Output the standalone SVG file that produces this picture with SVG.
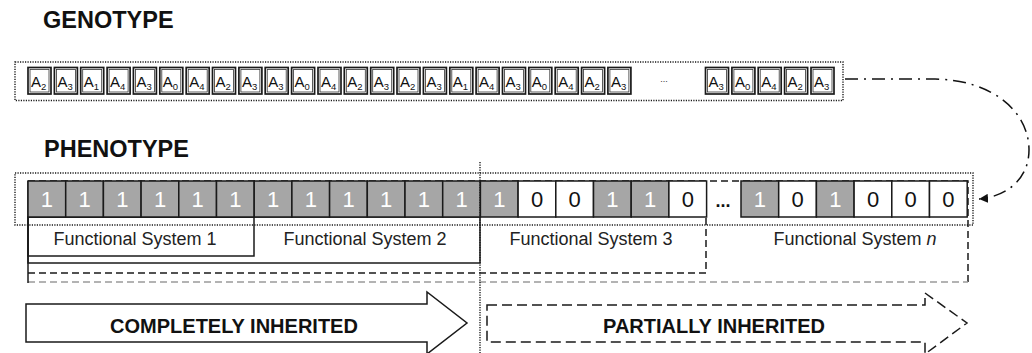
<svg xmlns="http://www.w3.org/2000/svg" xmlns:xlink="http://www.w3.org/1999/xlink" width="1032" height="353" viewBox="0 0 1032 353">
  <style>
    .head { font-family: "Liberation Sans", Arial, sans-serif; font-weight: bold; font-size: 23.5px; fill: #111; }
    .gene { font-family: "Liberation Sans", Arial, sans-serif; font-size: 15px; fill: #111; }
    .gene tspan { font-size: 9.5px; }
    .bit { font-family: "Liberation Sans", Arial, sans-serif; font-size: 22px; text-anchor: middle; }
    .on { fill: #a6a6a6; stroke: #1a1a1a; stroke-width: 1.5; }
    .off { fill: #ffffff; stroke: #1a1a1a; stroke-width: 1.5; }
    .on-t { fill: #ffffff; }
    .off-t { fill: #111; }
    .fs { font-family: "Liberation Sans", Arial, sans-serif; font-size: 18px; fill: #222; text-anchor: middle; }
    .solid { fill: none; stroke: #1a1a1a; stroke-width: 1.5; }
    .dash { fill: none; stroke: #1a1a1a; stroke-width: 1.5; stroke-dasharray: 7 4; }
    .dash-grey { fill: none; stroke: #9a9a9a; stroke-width: 1.5; stroke-dasharray: 7 4; }
    .dotted { fill: none; stroke: #1a1a1a; stroke-width: 1.4; stroke-dasharray: 1.2 1.3; }
    .band { font-family: "Liberation Sans", Arial, sans-serif; font-weight: bold; font-size: 20px; fill: #111; text-anchor: middle; }
  </style>
  <defs>
    <!-- double-framed gene cell -->
    <g id="gcell">
      <rect x="0" y="0" width="23" height="26.5" fill="#fff" stroke="#1a1a1a" stroke-width="1.7"/>
      <rect x="2" y="2" width="19" height="22.5" fill="none" stroke="#333" stroke-width="0.8"/>
    </g>
    <marker id="headL" viewBox="0 0 10 10" refX="10" refY="5" markerWidth="9" markerHeight="9" markerUnits="userSpaceOnUse" orient="auto">
      <path d="M0,0 L10,5 L0,10 Z" fill="#111"/>
    </marker>
  </defs>

  <rect width="1032" height="353" fill="#fff"/>

  <!-- headings -->
  <text class="head" x="43" y="28">GENOTYPE</text>
  <text class="head" x="44" y="157">PHENOTYPE</text>

  <!-- genotype string -->
  <g id="genotype">
    <rect class="dotted" x="15" y="62" width="828" height="38.5"/>
    <use xlink:href="#gcell" x="28" y="67.5"/>
    <use xlink:href="#gcell" x="54.4" y="67.5"/>
    <use xlink:href="#gcell" x="80.7" y="67.5"/>
    <use xlink:href="#gcell" x="107.1" y="67.5"/>
    <use xlink:href="#gcell" x="133.4" y="67.5"/>
    <use xlink:href="#gcell" x="159.8" y="67.5"/>
    <use xlink:href="#gcell" x="186.2" y="67.5"/>
    <use xlink:href="#gcell" x="212.5" y="67.5"/>
    <use xlink:href="#gcell" x="238.9" y="67.5"/>
    <use xlink:href="#gcell" x="265.2" y="67.5"/>
    <use xlink:href="#gcell" x="291.6" y="67.5"/>
    <use xlink:href="#gcell" x="318" y="67.5"/>
    <use xlink:href="#gcell" x="344.3" y="67.5"/>
    <use xlink:href="#gcell" x="370.7" y="67.5"/>
    <use xlink:href="#gcell" x="397" y="67.5"/>
    <use xlink:href="#gcell" x="423.4" y="67.5"/>
    <use xlink:href="#gcell" x="449.8" y="67.5"/>
    <use xlink:href="#gcell" x="476.1" y="67.5"/>
    <use xlink:href="#gcell" x="502.5" y="67.5"/>
    <use xlink:href="#gcell" x="528.8" y="67.5"/>
    <use xlink:href="#gcell" x="555.2" y="67.5"/>
    <use xlink:href="#gcell" x="581.6" y="67.5"/>
    <use xlink:href="#gcell" x="607.9" y="67.5"/>
    <use xlink:href="#gcell" x="705.5" y="67.5"/>
    <use xlink:href="#gcell" x="731.9" y="67.5"/>
    <use xlink:href="#gcell" x="758.2" y="67.5"/>
    <use xlink:href="#gcell" x="784.6" y="67.5"/>
    <use xlink:href="#gcell" x="811" y="67.5"/>

    <text class="gene" x="31" y="86.5">A<tspan dy="3">2</tspan></text>
    <text class="gene" x="57.4" y="86.5">A<tspan dy="3">3</tspan></text>
    <text class="gene" x="83.7" y="86.5">A<tspan dy="3">1</tspan></text>
    <text class="gene" x="110.1" y="86.5">A<tspan dy="3">4</tspan></text>
    <text class="gene" x="136.4" y="86.5">A<tspan dy="3">3</tspan></text>
    <text class="gene" x="162.8" y="86.5">A<tspan dy="3">0</tspan></text>
    <text class="gene" x="189.2" y="86.5">A<tspan dy="3">4</tspan></text>
    <text class="gene" x="215.5" y="86.5">A<tspan dy="3">2</tspan></text>
    <text class="gene" x="241.9" y="86.5">A<tspan dy="3">3</tspan></text>
    <text class="gene" x="268.2" y="86.5">A<tspan dy="3">3</tspan></text>
    <text class="gene" x="294.6" y="86.5">A<tspan dy="3">0</tspan></text>
    <text class="gene" x="321" y="86.5">A<tspan dy="3">4</tspan></text>
    <text class="gene" x="347.3" y="86.5">A<tspan dy="3">2</tspan></text>
    <text class="gene" x="373.7" y="86.5">A<tspan dy="3">3</tspan></text>
    <text class="gene" x="400" y="86.5">A<tspan dy="3">2</tspan></text>
    <text class="gene" x="426.4" y="86.5">A<tspan dy="3">3</tspan></text>
    <text class="gene" x="452.8" y="86.5">A<tspan dy="3">1</tspan></text>
    <text class="gene" x="479.1" y="86.5">A<tspan dy="3">4</tspan></text>
    <text class="gene" x="505.5" y="86.5">A<tspan dy="3">3</tspan></text>
    <text class="gene" x="531.8" y="86.5">A<tspan dy="3">0</tspan></text>
    <text class="gene" x="558.2" y="86.5">A<tspan dy="3">4</tspan></text>
    <text class="gene" x="584.6" y="86.5">A<tspan dy="3">2</tspan></text>
    <text class="gene" x="610.9" y="86.5">A<tspan dy="3">3</tspan></text>
    <text class="gene" x="708.5" y="86.5">A<tspan dy="3">3</tspan></text>
    <text class="gene" x="734.9" y="86.5">A<tspan dy="3">0</tspan></text>
    <text class="gene" x="761.2" y="86.5">A<tspan dy="3">4</tspan></text>
    <text class="gene" x="787.6" y="86.5">A<tspan dy="3">2</tspan></text>
    <text class="gene" x="814" y="86.5">A<tspan dy="3">3</tspan></text>

    <text x="664" y="82" font-family="Liberation Sans, Arial, sans-serif" font-size="9" fill="#333" text-anchor="middle">...</text>
  </g>

  <!-- functional system brackets under the phenotype -->
  <g id="fs-n">
    <path class="dash" d="M28,181 L968,181 L968,282"/>
    <path class="dash-grey" d="M28,282 L968,282"/>
    <text class="fs" x="855" y="244.5">Functional System <tspan font-style="italic">n</tspan></text>
  </g>
  <g id="fs-3">
    <path class="dash" d="M28,273 L706,273 L706,181"/>
    <text class="fs" x="591" y="244.5">Functional System 3</text>
  </g>
  <g id="fs-2">
    <rect class="solid" x="28" y="217" width="452" height="46"/>
    <text class="fs" x="365" y="244.5">Functional System 2</text>
  </g>
  <g id="fs-1">
    <rect class="solid" x="28" y="217" width="226" height="39"/>
    <text class="fs" x="135" y="244.5">Functional System 1</text>
  </g>
  <!-- shared left edge of all brackets -->
  <line class="solid" x1="28" y1="181" x2="28" y2="283"/>

  <!-- phenotype string -->
  <g id="phenotype">
    <rect class="on" x="28" y="181" width="37.7" height="36"/>
    <rect class="on" x="65.7" y="181" width="37.7" height="36"/>
    <rect class="on" x="103.4" y="181" width="37.7" height="36"/>
    <rect class="on" x="141.1" y="181" width="37.7" height="36"/>
    <rect class="on" x="178.8" y="181" width="37.7" height="36"/>
    <rect class="on" x="216.5" y="181" width="37.7" height="36"/>
    <rect class="on" x="254.2" y="181" width="37.7" height="36"/>
    <rect class="on" x="291.9" y="181" width="37.7" height="36"/>
    <rect class="on" x="329.6" y="181" width="37.7" height="36"/>
    <rect class="on" x="367.3" y="181" width="37.7" height="36"/>
    <rect class="on" x="405" y="181" width="37.7" height="36"/>
    <rect class="on" x="442.7" y="181" width="37.7" height="36"/>
    <rect class="on" x="480.4" y="181" width="37.7" height="36"/>
    <rect class="off" x="518.1" y="181" width="37.7" height="36"/>
    <rect class="off" x="555.8" y="181" width="37.7" height="36"/>
    <rect class="on" x="593.5" y="181" width="37.7" height="36"/>
    <rect class="on" x="631.2" y="181" width="37.7" height="36"/>
    <rect class="off" x="668.9" y="181" width="37.7" height="36"/>
    <rect class="on" x="741" y="181" width="37.7" height="36"/>
    <rect class="off" x="778.7" y="181" width="37.7" height="36"/>
    <rect class="on" x="816.4" y="181" width="37.7" height="36"/>
    <rect class="off" x="854.1" y="181" width="37.7" height="36"/>
    <rect class="off" x="891.8" y="181" width="37.7" height="36"/>
    <rect class="off" x="929.5" y="181" width="37.7" height="36"/>

    <text class="bit on-t" x="46.9" y="207">1</text>
    <text class="bit on-t" x="84.6" y="207">1</text>
    <text class="bit on-t" x="122.3" y="207">1</text>
    <text class="bit on-t" x="160" y="207">1</text>
    <text class="bit on-t" x="197.7" y="207">1</text>
    <text class="bit on-t" x="235.4" y="207">1</text>
    <text class="bit on-t" x="273.1" y="207">1</text>
    <text class="bit on-t" x="310.8" y="207">1</text>
    <text class="bit on-t" x="348.5" y="207">1</text>
    <text class="bit on-t" x="386.2" y="207">1</text>
    <text class="bit on-t" x="423.9" y="207">1</text>
    <text class="bit on-t" x="461.6" y="207">1</text>
    <text class="bit on-t" x="499.3" y="207">1</text>
    <text class="bit off-t" x="537" y="207">0</text>
    <text class="bit off-t" x="574.7" y="207">0</text>
    <text class="bit on-t" x="612.4" y="207">1</text>
    <text class="bit on-t" x="650.1" y="207">1</text>
    <text class="bit off-t" x="687.8" y="207">0</text>
    <text class="bit on-t" x="759.9" y="207">1</text>
    <text class="bit off-t" x="797.6" y="207">0</text>
    <text class="bit on-t" x="835.3" y="207">1</text>
    <text class="bit off-t" x="873" y="207">0</text>
    <text class="bit off-t" x="910.7" y="207">0</text>
    <text class="bit off-t" x="948.4" y="207">0</text>

    <text x="723" y="207" font-family="Liberation Sans, Arial, sans-serif" font-weight="bold" font-size="18" fill="#111" text-anchor="middle">...</text>

    <rect class="dotted" x="15" y="173" width="958" height="52"/>
  </g>

  <!-- divider between inherited parts -->
  <line class="dotted" x1="480" y1="162" x2="480" y2="353"/>

  <!-- inheritance bands -->
  <g id="completely-inherited">
    <path class="solid" d="M26,304 L427,304 L427,292 L467,323 L427,354 L427,342 L26,342 Z" fill="#fff"/>
    <text class="band" x="234" y="333">COMPLETELY INHERITED</text>
  </g>
  <g id="partially-inherited">
    <path class="dash" d="M487,305 L925,305 L925,293 L967,323 L925,354 L925,342 L487,342 Z" style="stroke-dasharray: 10 5"/>
    <text class="band" x="714" y="333">PARTIALLY INHERITED</text>
  </g>

  <!-- genotype-to-phenotype mapping -->
  <g id="connectors">
    <path d="M845,79 L935,79 C993,80 1029,112 1029,150 C1029,180 1005,197 979,199" fill="none" stroke="#111" stroke-width="1.5" stroke-dasharray="13 6 2 6" marker-end="url(#headL)"/>
  </g>
</svg>
